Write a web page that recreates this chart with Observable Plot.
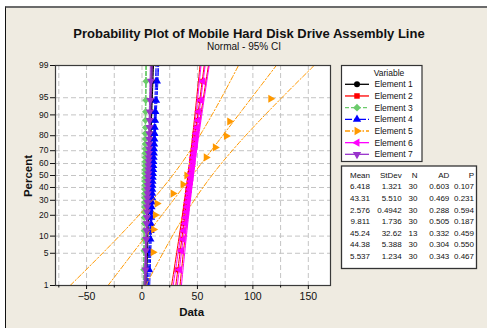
<!DOCTYPE html>
<html><head><meta charset="utf-8">
<script src="https://cdn.jsdelivr.net/npm/d3@7"></script>
<script src="https://cdn.jsdelivr.net/npm/@observablehq/plot@0.6"></script>
<style>
html,body{margin:0;padding:0;background:#fff;width:487px;height:328px;overflow:hidden}
#bg{position:absolute;left:5px;top:6px;width:482px;height:322px;background:#EFEBE1;border-left:1.5px solid #111;border-top:2px solid #6b6b6b;box-sizing:border-box}
#chart{position:absolute;left:0;top:0}
</style></head><body><div id="bg"></div><div id="chart"></div>
<script>
// ---- data ----
const elements = ["Element 1","Element 2","Element 3","Element 4","Element 5","Element 6","Element 7"];
const colors = ["#000000","#FF0000","#6CCB6C","#0000FF","#FF9900","#FF00FF","#9933CC"];
const meanLabels = ["6.418","43.31","2.576","9.811","45.24","44.38","5.537"];
const means = [6.418, 43.31, 2.576, 9.811, 45.24, 44.38, 5.537];
const stdevLabels = ["1.321","5.510","0.4942","1.736","32.62","5.388","1.234"];
const stdevs = [1.321, 5.510, 0.4942, 1.736, 32.62, 5.388, 1.234];
const ns = [30, 30, 30, 30, 13, 30, 30];
const adLabels = ["0.603","0.469","0.288","0.505","0.332","0.304","0.343"];
const pLabels = ["0.107","0.231","0.594","0.187","0.459","0.550","0.467"];

const element1 = [3.6,4.5,4.7,4.9,5.0,5.2,5.3,5.5,5.7,5.8,5.9,6.0,6.1,6.2,6.3,6.4,6.5,6.7,6.9,7.0,7.1,7.2,7.3,7.5,7.7,7.9,8.0,8.1,8.4,9.2];
const element2 = [31.5,34.8,36.2,37.0,37.5,38.6,39.0,39.4,40.3,40.9,41.1,41.6,42.4,42.8,43.0,43.4,44.2,44.6,45.1,45.3,45.8,46.6,47.2,47.4,48.0,49.1,49.9,50.4,52.5,54.8];
const element3 = [1.6,1.8,1.9,2.0,2.1,2.1,2.2,2.2,2.3,2.3,2.4,2.4,2.5,2.5,2.6,2.6,2.6,2.7,2.7,2.8,2.8,2.9,2.9,3.0,3.0,3.1,3.1,3.2,3.4,3.6];
const element4 = [6.5,6.9,7.6,7.8,8.0,8.3,8.5,8.6,8.8,9.1,9.2,9.3,9.4,9.5,9.7,9.9,10.1,10.2,10.3,10.5,10.7,10.8,11.0,11.2,11.4,11.5,11.8,12.1,12.7,13.5];
const element5 = [9.9,10.4,12.0,13.5,27.9,36.9,40.3,44.5,57.8,66.0,76.0,79.0,116.0];
const element6 = [33.9,35.6,37.3,38.0,39.1,39.5,40.4,40.7,41.2,42.0,42.2,42.9,43.1,43.8,44.3,44.5,45.0,45.6,46.1,46.2,46.8,47.5,48.1,48.4,49.0,49.9,50.8,51.4,53.2,55.0];
const element7 = [3.2,3.5,3.9,4.1,4.2,4.5,4.6,4.7,4.8,5.0,5.1,5.1,5.3,5.4,5.5,5.6,5.7,5.8,5.9,6.0,6.1,6.3,6.4,6.5,6.6,6.8,7.0,7.1,7.5,8.1];
const seriesValues = [element1, element2, element3, element4, element5, element6, element7];

const xTicks = [-50, 0, 50, 100, 150];
const xMinorTicks = [-75, -25, 25, 75, 125];
const yTickPercents = [1, 5, 10, 20, 30, 40, 50, 60, 70, 80, 90, 95, 99];
const yTickLabels = ["1","5","10","20","30","40","50","60","70","80","90","95","99"];

// ---- styles ----
const symbols = ["circle","square","square","triangle","triangle","triangle","triangle"];
const rotations = [0, 0, 45, 0, 90, -90, 180];
const dashes = [null, null, "4,2", "7,2,3,2", "5,2,1.5,2", null, null];

// inverse normal CDF (Acklam)
function probit(p){
  const a=[-3.969683028665376e+01,2.209460984245205e+02,-2.759285104469687e+02,1.383577518672690e+02,-3.066479806614716e+01,2.506628277459239e+00];
  const b=[-5.447609879822406e+01,1.615858368580409e+02,-1.556989798598866e+02,6.680131188771972e+01,-1.328068155288572e+01];
  const c=[-7.784894002430293e-03,-3.223964580411365e-01,-2.400758277161838e+00,-2.549732539343734e+00,4.374664141464968e+00,2.938163982698783e+00];
  const d=[7.784695709041462e-03,3.224671290700398e-01,2.445134137142996e+00,3.754408661907416e+00];
  const pl=0.02425, ph=1-pl; let q,r;
  if(p<pl){q=Math.sqrt(-2*Math.log(p));return (((((c[0]*q+c[1])*q+c[2])*q+c[3])*q+c[4])*q+c[5])/((((d[0]*q+d[1])*q+d[2])*q+d[3])*q+1);}
  if(p<=ph){q=p-0.5;r=q*q;return (((((a[0]*r+a[1])*r+a[2])*r+a[3])*r+a[4])*r+a[5])*q/(((((b[0]*r+b[1])*r+b[2])*r+b[3])*r+b[4])*r+1);}
  q=Math.sqrt(-2*Math.log(1-p));return -(((((c[0]*q+c[1])*q+c[2])*q+c[3])*q+c[4])*q+c[5])/((((d[0]*q+d[1])*q+d[2])*q+d[3])*q+1);
}

const zLo = probit(0.01), zHi = probit(0.99);
const yTickZ = yTickPercents.map(p => probit(p / 100));
const yLabelMap = new Map(yTickZ.map((z, i) => [z, yTickLabels[i]]));

// points at Benard median-rank plotting positions
const pointTables = seriesValues.map((vals, s) => vals.slice().sort((a,b)=>a-b).map((v, i) => ({
  v, z: probit((i + 1 - 0.3) / (vals.length + 0.4))
})));
// fitted line and 95% CI from Mean / StDev / N
const curveTables = means.map((m, s) => {
  const sd = stdevs[s], n = ns[s];
  return d3.range(61).map(k => {
    const z = zLo + (zHi - zLo) * k / 60;
    const fit = m + z * sd;
    const half = 1.96 * sd * Math.sqrt(1 / n + z * z / (2 * n));
    return {z, fit, lo: fit - half, hi: fit + half};
  });
});

const marks = [
  Plot.frame({fill: "white"}),
  Plot.ruleX([...xTicks, ...xMinorTicks], {stroke: "#c4c4c4", strokeWidth: 1, strokeDasharray: "5,3"}),
  Plot.ruleY(yTickZ, {stroke: "#c4c4c4", strokeWidth: 1, strokeDasharray: "5,3"})
];
for (let s = 0; s < 7; s++) {
  const base = {y: "z", stroke: colors[s], strokeWidth: 1, strokeDasharray: dashes[s], clip: true};
  marks.push(Plot.line(curveTables[s], {...base, x: "lo"}));
  marks.push(Plot.line(curveTables[s], {...base, x: "hi"}));
  marks.push(Plot.line(curveTables[s], {...base, x: "fit"}));
  marks.push(Plot.dot(pointTables[s], {x: "v", y: "z", symbol: symbols[s], rotate: rotations[s],
    r: symbols[s] === "circle" ? 2.7 : (symbols[s] === "square" ? 2.8 : 3.0), fill: colors[s], stroke: "none", clip: true}));
}
marks.push(Plot.frame({stroke: "#3a3a3a", strokeWidth: 1.2}));
marks.push(Plot.axisX({ticks: xTicks, tickSize: 4, tickPadding: 3, fontSize: 10.5, label: null}));
marks.push(Plot.axisX({ticks: xMinorTicks, tickSize: 2.5, tickFormat: () => "", label: null}));
marks.push(Plot.axisY({ticks: yTickZ, tickSize: 5, tickPadding: 2, fontSize: 8.5, tickFormat: z => yLabelMap.get(z), label: null}));

const chart = Plot.plot({
  width: 487, height: 328,
  marginLeft: 55, marginRight: 157, marginTop: 65, marginBottom: 43,
  x: {domain: [-78, 170]},
  y: {domain: [zLo, zHi]},
  style: {background: "transparent", fontFamily: "Liberation Sans, Arial, sans-serif", color: "#111", overflow: "visible"},
  marks
});
document.getElementById("chart").appendChild(chart);

// ---- annotations: titles, axis labels, legend, stats table ----
const svg = d3.select(chart);
const FF = "Liberation Sans, Arial, sans-serif";
svg.append("text").attr("x", 249).attr("y", 37.5).attr("text-anchor", "middle")
  .attr("font-family", FF).attr("font-weight", "bold").attr("font-size", 13).attr("fill", "#111")
  .text("Probability Plot of Mobile Hard Disk Drive Assembly Line");
svg.append("text").attr("x", 244).attr("y", 49.5).attr("text-anchor", "middle")
  .attr("font-family", FF).attr("font-size", 10).attr("fill", "#111").text("Normal - 95% CI");
svg.append("text").attr("x", 191.6).attr("y", 316).attr("text-anchor", "middle")
  .attr("font-family", FF).attr("font-weight", "bold").attr("font-size", 11.5).attr("fill", "#111").text("Data");
svg.append("text").attr("transform", "translate(31.5,176) rotate(-90)").attr("text-anchor", "middle")
  .attr("font-family", FF).attr("font-weight", "bold").attr("font-size", 11.5).attr("fill", "#111").text("Percent");

// legend
const lg = svg.append("g");
lg.append("rect").attr("x", 341.5).attr("y", 65.5).attr("width", 80.5).attr("height", 96)
  .attr("fill", "white").attr("stroke", "#333").attr("stroke-width", 1.2);
lg.append("text").attr("x", 389).attr("y", 76).attr("text-anchor", "middle")
  .attr("font-family", FF).attr("font-size", 8.5).attr("fill", "#111").text("Variable");
const symType = {circle: d3.symbolCircle, square: d3.symbolSquare, triangle: d3.symbolTriangle};
elements.forEach((name, s) => {
  const cy = 84.3 + s * 11.67;
  lg.append("line").attr("x1", 345).attr("x2", 369).attr("y1", cy).attr("y2", cy)
    .attr("stroke", colors[s]).attr("stroke-width", 1.3).attr("stroke-dasharray", dashes[s]);
  const rr = symbols[s] === "circle" ? 3 : 3.1;
  lg.append("path").attr("d", d3.symbol(symType[symbols[s]], Math.PI * rr * rr)())
    .attr("transform", `translate(357,${cy}) rotate(${rotations[s]})`).attr("fill", colors[s]);
  lg.append("text").attr("x", 374.5).attr("y", cy + 3).attr("text-anchor", "start")
    .attr("font-family", FF).attr("font-size", 8.5).attr("fill", "#111").text(name);
});

// stats table
const tb = svg.append("g").attr("font-family", FF).attr("font-size", 8).attr("fill", "#111");
tb.append("rect").attr("x", 341.5).attr("y", 166).attr("width", 135).attr("height", 102.5)
  .attr("fill", "white").attr("stroke", "#333").attr("stroke-width", 1.3);
const colRight = [370, 401.7, 417.5, 449.3, 474];
const headers = ["Mean", "StDev", "N", "AD", "P"];
headers.forEach((h, c) => tb.append("text").attr("x", colRight[c]).attr("y", 177.5).attr("text-anchor", "end").text(h));
elements.forEach((name, s) => {
  const y = 189.3 + s * 11.6;
  const row = [meanLabels[s], stdevLabels[s], String(ns[s]), adLabels[s], pLabels[s]];
  row.forEach((t, c) => tb.append("text").attr("x", colRight[c]).attr("y", y).attr("text-anchor", "end").text(t));
});
</script></body></html>
